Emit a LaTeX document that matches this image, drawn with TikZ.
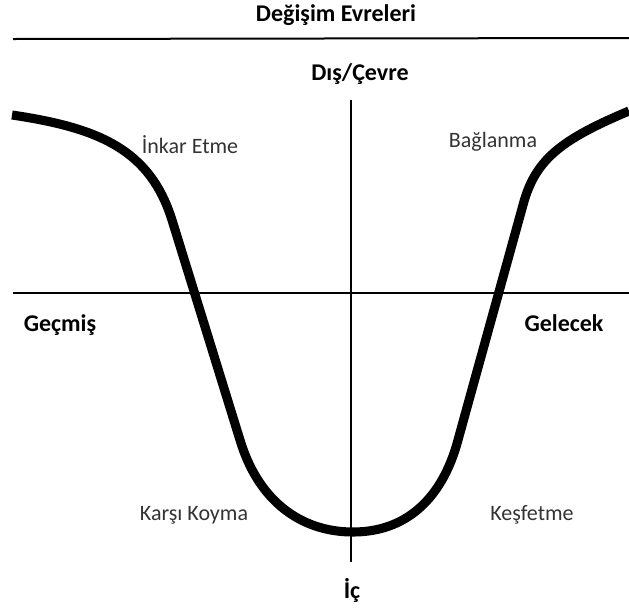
\documentclass[tikz,border=0pt]{standalone}
\usepackage{fontspec}
\setmainfont{Carlito}
\usepackage{tikz}
\usetikzlibrary{positioning,calc}

\tikzset{
  evre/.style={font=\fontsize{16.5}{19}\selectfont, text=black!80},
  eksen/.style={font=\bfseries\fontsize{18}{21}\selectfont},
  cizgi/.style={line width=1.2pt},
}

\begin{document}
\begin{tikzpicture}[x=0.75pt, y=-0.75pt]
  \useasboundingbox (0,0) rectangle (629,608);
  % baslik ve ust cizgi
  \node[eksen] (baslik) at (336,15) {Değişim Evreleri};
  \draw[line width=1.5pt] (13,39)--(629,38);
  % eksenler
  \draw[cizgi] (13,293)--(629,293);
  \draw[cizgi] (351,100)--(351,562);
  \node[eksen] (dis) at (360,74) {Dış/Çevre};
  \node[eksen] (ic) at (352,590) {İç};
  \node[eksen] (gecmis) at (60,325) {Geçmiş};
  \node[eksen] (gelecek) at (564,323) {Gelecek};
  % degisim egrisi
  \draw[line width=6.8pt, line join=round]
    (12,115) .. controls (100,128) and (150,150) .. (172,220)
    -- (240,440) .. controls (258,500) and (300,532) .. (353,532)
    .. controls (405,532) and (442,500) .. (458,440)
    -- (523,205) .. controls (535,160) and (560,140) .. (629,111);
  % evreler
  \node[evre] (inkar) at (190,145) {İnkar Etme};
  \node[evre] (baglanma) at (493,142) {Bağlanma};
  \node[evre] (karsi) at (194,515) {Karşı Koyma};
  \node[evre] (kesfetme) at (532,515) {Keşfetme};
\end{tikzpicture}
\end{document}
